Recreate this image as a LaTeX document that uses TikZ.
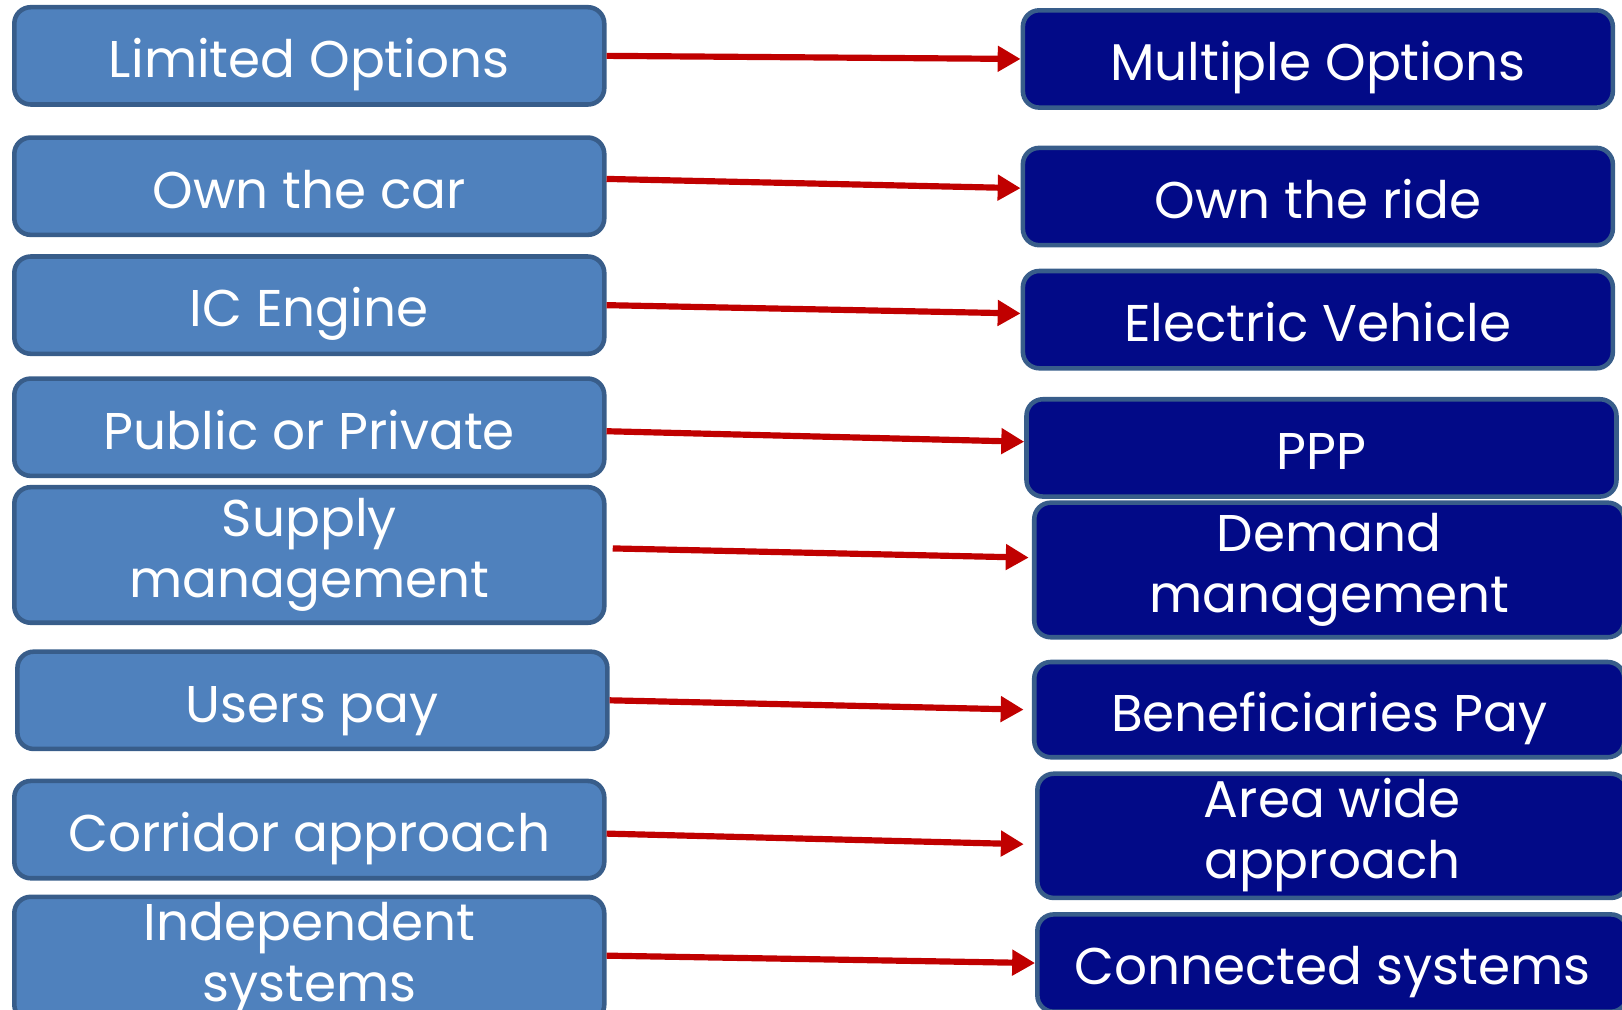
\documentclass[tikz,border=0pt]{standalone}
\usepackage{fontspec}
\setmainfont{Poppins}
\usetikzlibrary{arrows.meta}
\definecolor{oldfill}{RGB}{79,129,189}
\definecolor{boxline}{RGB}{56,93,138}
\definecolor{newfill}{RGB}{2,10,135}
\definecolor{arrowred}{RGB}{192,0,0}
\begin{document}
\begin{tikzpicture}[x=0.01cm,y=-0.01cm,
  box/.style={draw=boxline, line width=1.25pt, rounded corners=4.5pt, text=white,
    font=\fontsize{14.2}{16.8}\selectfont, align=center, inner sep=0pt,
    minimum width=5.7cm, minimum height=0.94cm,
    execute at begin node={\rule{0pt}{16pt}},
    execute at end node={\rule[-4pt]{0pt}{4pt}}},
  oldbox/.style={box, fill=oldfill},
  newbox/.style={box, fill=newfill},
  shiftarrow/.style={draw=arrowred, line width=1.7pt, -{Triangle[length=6.3pt,width=6.8pt]}}]
\path [use as bounding box, clip] (0,0) rectangle (1568,976);
\node [oldbox] (l1) at (299,54) {Limited Options};
\node [oldbox] (l2) at (299,180) {Own the car};
\node [oldbox] (l3) at (299,295) {IC Engine};
\node [oldbox] (l4) at (299,413) {Public or Private};
\node [oldbox, minimum height=1.31cm] (l5) at (299,536.5) {Supply\\management};
\node [oldbox] (l6) at (302,677) {Users pay};
\node [oldbox] (l7) at (299,802) {Corridor approach};
\node [oldbox, minimum height=1.2cm] (l8) at (299,927) {Independent\\systems};
\node [newbox] (r1) at (1274,57) {Multiple Options};
\node [newbox] (r2) at (1274,190) {Own the ride};
\node [newbox] (r3) at (1274,309) {Electric Vehicle};
\node [newbox] (r4) at (1277.5,433) {PPP};
\node [newbox, minimum height=1.30cm] (r5) at (1285,551) {Demand\\management};
\node [newbox, minimum height=0.92cm] (r6) at (1285,686) {Beneficiaries Pay};
\node [newbox, minimum height=1.20cm] (r7) at (1288,808) {Area wide\\approach};
\node [newbox] (r8) at (1288,931) {Connected systems};
\draw [shiftarrow] (l1.east) -- (r1.west);
\draw [shiftarrow] ([yshift=2pt]l2.east) -- ([yshift=2.3pt]r2.west);
\draw [shiftarrow] (l3.east) -- ([yshift=1.7pt]r3.west);
\draw [shiftarrow] ([yshift=-1.1pt]l4.east) -- ([yshift=1.7pt]r4.west);
\draw [shiftarrow] ([xshift=1.7pt,yshift=1.8pt]l5.east) -- ([xshift=-0.9pt,yshift=3.4pt]r5.west);
\draw [shiftarrow] (l6.east) -- ([xshift=-2.3pt]r6.west);
\draw [shiftarrow] ([yshift=-1.1pt]l7.east) -- ([xshift=-3.1pt,yshift=-2.3pt]r7.west);
\draw [shiftarrow] ([yshift=0.9pt]l8.east) -- (r8.west);
\end{tikzpicture}
\end{document}
